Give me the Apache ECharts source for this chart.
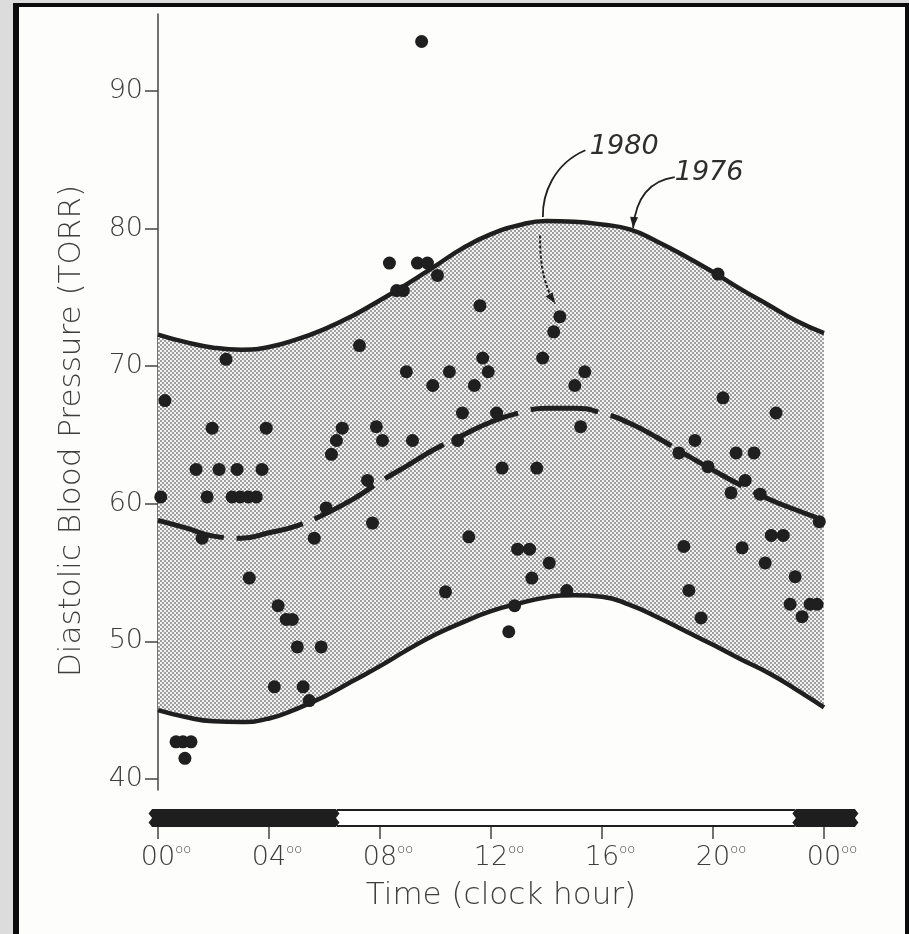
<!DOCTYPE html>
<html>
<head>
<meta charset="utf-8">
<title>Diastolic Blood Pressure by Clock Hour</title>
<script src="https://cdn.jsdelivr.net/npm/echarts@6/dist/echarts.min.js"></script>
<style>
  html, body { margin: 0; padding: 0; width: 909px; height: 934px; overflow: hidden; background: #dcdcdc; }
  #frame {
    position: absolute; left: 13px; top: 3px; width: 886px; height: 927px;
    background: #fdfdfb;
    border-left: 6px solid #0b0b0b; border-top: 4px solid #0b0b0b; border-right: 4px solid #0b0b0b;
  }
  #chart { position: absolute; left: 0; top: 0; width: 909px; height: 934px; }
</style>
</head>
<body>
<div id="frame"></div>
<div id="chart"></div>
<script>
// ---- data -------------------------------------------------------------
// clock hours at which the curves are sampled
const curveHours = [0, 1, 2, 3, 4, 5, 6, 7, 8, 9, 10, 11, 12, 13, 14, 15, 16, 17, 18, 19, 20, 21, 22, 23, 24];

// 1976 envelope, upper and lower bounds (torr)
const upper1976 = [72.3, 71.75, 71.35, 71.2, 71.4, 71.95, 72.7, 73.65, 74.8, 76.0, 77.3, 78.6, 79.6, 80.25, 80.55,
                   80.5, 80.3, 79.95, 79.05, 78.0, 76.85, 75.6, 74.45, 73.3, 72.4];
const lower1976 = [45.0, 44.5, 44.2, 44.15, 44.4, 45.1, 46.0, 47.1, 48.2, 49.4, 50.5, 51.4, 52.2, 52.75, 53.2,
                   53.35, 53.25, 52.65, 51.75, 50.75, 49.75, 48.7, 47.7, 46.5, 45.2];

// 1980 fitted rhythm (dashed)
const fit1980 = [58.8, 58.25, 57.65, 57.5, 57.9, 58.4, 59.25, 60.3, 61.6, 62.8, 64.0, 65.0, 65.95, 66.6, 66.95,
                 66.95, 66.6, 65.85, 64.8, 63.6, 62.45, 61.35, 60.35, 59.55, 58.8];

// individual 1980 readings: clock hour and diastolic pressure
const readingHours = [
  0.1, 0.25, 2.45, 1.95, 1.37, 2.2, 2.85, 3.75, 1.77, 2.67, 2.96, 3.25, 3.54, 3.9, 1.59, 3.29,
  0.65, 0.9, 1.19, 0.97,
  4.33, 4.62, 4.84, 5.02, 5.88, 4.19, 5.23, 5.45, 5.63, 6.06, 6.25, 6.43, 6.64, 7.55, 7.73,
  7.26, 7.87, 8.09, 9.17, 8.95, 10.5, 9.9, 10.8, 10.97, 11.4, 11.7, 11.9, 11.6, 12.2, 12.4,
  11.2, 10.36, 8.34, 9.35, 9.71, 10.07, 8.6, 8.84, 9.5,
  13.65, 12.96, 13.39, 14.1, 13.47, 14.73, 12.85, 12.64, 13.86, 14.26, 14.48, 15.38, 15.02, 15.23,
  18.77, 19.35, 19.82, 18.95, 19.13, 19.57, 20.18, 20.36, 20.65, 20.83, 21.48, 21.16, 21.7,
  21.05, 21.88, 22.27, 22.1, 22.53, 22.96, 22.78, 23.5, 23.75, 23.21, 23.83
];
const readingValues = [
  60.5, 67.5, 70.5, 65.5, 62.5, 62.5, 62.5, 62.5, 60.5, 60.5, 60.5, 60.5, 60.5, 65.5, 57.5, 54.6,
  42.7, 42.7, 42.7, 41.5,
  52.6, 51.6, 51.6, 49.6, 49.6, 46.7, 46.7, 45.7, 57.5, 59.7, 63.6, 64.6, 65.5, 61.7, 58.6,
  71.5, 65.6, 64.6, 64.6, 69.6, 69.6, 68.6, 64.6, 66.6, 68.6, 70.6, 69.6, 74.4, 66.6, 62.6,
  57.6, 53.6, 77.5, 77.5, 77.5, 76.6, 75.5, 75.5, 93.6,
  62.6, 56.7, 56.7, 55.7, 54.6, 53.7, 52.6, 50.7, 70.6, 72.5, 73.6, 69.6, 68.6, 65.6,
  63.7, 64.6, 62.7, 56.9, 53.7, 51.7, 76.7, 67.7, 60.8, 63.7, 63.7, 61.7, 60.7,
  56.8, 55.7, 66.6, 57.7, 57.7, 54.7, 52.7, 52.7, 52.7, 51.8, 58.7
];

// light / dark schedule shown under the time axis: [from hour, to hour, dark?]
const lightSchedule = [[6.45, 22.95, 0], [-0.25, 6.45, 1], [22.95, 25.15, 1]];

const yTicks = [40, 50, 60, 70, 80, 90];
const hourLabels = ['00', '04', '08', '12', '16', '20', '00'];

// annotation anchors in (hour, torr)
const label1976 = [19.86, 84.05];
const arrow1976 = [[18.62, 83.75], [17.55, 83.45], [17.2, 81.8], [17.12, 80.05]];
const label1980 = [16.8, 85.95];
const leader1980 = [[15.4, 85.7], [14.25, 84.7], [13.85, 82.5], [13.87, 80.85]];
const pointer1980 = [[13.77, 79.5], [13.75, 77.3], [13.95, 75.7], [14.31, 74.55]];

// ---- styling helpers --------------------------------------------------
const INK = '#1f1f1f';
const AXIS = '#444444';
const TEXT = '#3e3e3e';
const FONT = '"DejaVu Sans", "Liberation Sans", sans-serif';

// halftone screen used for the envelope
const tile = document.createElement('canvas');
tile.width = 4; tile.height = 4;
const tctx = tile.getContext('2d');
tctx.fillStyle = '#f3f3f3'; tctx.fillRect(0, 0, 4, 4);
tctx.fillStyle = '#9e9e9e'; tctx.fillRect(0, 0, 2, 2); tctx.fillRect(2, 2, 2, 2);

const pair = (xs, ys) => xs.map((x, i) => [x, ys[i]]);

function renderSchedule(params, api) {
  const from = api.value(0), to = api.value(1), dark = api.value(2);
  const a = api.coord([from, 1]);
  const b = api.coord([to, 0]);
  const x0 = a[0], x1 = b[0], top = a[1], bot = b[1];
  const h = bot - top;
  const children = [];
  if (!dark) {
    children.push({ type: 'rect', shape: { x: x0, y: top, width: x1 - x0, height: h },
      style: { fill: '#ffffff' } });
    children.push({ type: 'line', shape: { x1: x0, y1: top + 1, x2: x1, y2: top + 1 },
      style: { stroke: INK, lineWidth: 2 } });
    children.push({ type: 'line', shape: { x1: x0, y1: bot - 1, x2: x1, y2: bot - 1 },
      style: { stroke: INK, lineWidth: 2 } });
  } else {
    // torn edges at both ends
    const pts = [];
    const n = 4;
    for (let i = 0; i <= n; i++) pts.push([x1 + (i % 2 ? 2.5 : -1), top + h * i / n]);
    for (let i = n; i >= 0; i--) pts.push([x0 + (i % 2 ? -2.5 : 1), top + h * i / n]);
    children.push({ type: 'polygon', shape: { points: pts }, style: { fill: '#1e1e1e' } });
  }
  return { type: 'group', children };
}

const chart = echarts.init(document.getElementById('chart'), null, { renderer: 'canvas' });

chart.setOption({
  animation: false,
  backgroundColor: 'transparent',
  grid: [
    { left: 158, top: 14, width: 666, height: 776 },
    { left: 158, top: 809, width: 666, height: 18 }
  ],
  xAxis: [
    { gridIndex: 0, type: 'value', min: 0, max: 24, show: false },
    {
      gridIndex: 1, type: 'value', min: 0, max: 24, interval: 4,
      axisLine: { show: false },
      splitLine: { show: false },
      axisTick: { show: true, length: 12, lineStyle: { color: AXIS, width: 1.5 } },
      axisLabel: {
        margin: 16,
        padding: [0, 0, 0, 16],
        formatter: (v) => '{h|' + hourLabels[v / 4] + '}{s|oo}',
        rich: {
          h: { fontSize: 27, color: TEXT, fontFamily: FONT, fontWeight: 200, lineHeight: 30 },
          s: { fontSize: 13, color: TEXT, fontFamily: FONT, fontWeight: 200, verticalAlign: 'top', lineHeight: 15 }
        }
      }
    },
    // hourly sample axis for the stacked envelope
    { gridIndex: 0, type: 'category', data: curveHours.map(String), boundaryGap: false, show: false }
  ],
  yAxis: [
    {
      gridIndex: 0, type: 'value', min: 39.2, max: 95.6,
      splitLine: { show: false },
      axisLine: { show: true, lineStyle: { color: AXIS, width: 1.5 } },
      axisTick: { show: true, length: 13, customValues: yTicks, lineStyle: { color: AXIS, width: 1.5 } },
      axisLabel: { show: true, customValues: yTicks, margin: 15, fontSize: 27, color: TEXT,
                   fontFamily: FONT, fontWeight: 200 }
    },
    { gridIndex: 1, type: 'value', min: 0, max: 1, show: false }
  ],
  series: [
    {
      name: '1976 lower', type: 'line', xAxisIndex: 2, yAxisIndex: 0, stack: 'envelope',
      data: lower1976, smooth: true, showSymbol: false, z: 2,
      lineStyle: { color: INK, width: 4.5 }
    },
    {
      name: '1976 upper', type: 'line', xAxisIndex: 2, yAxisIndex: 0, stack: 'envelope',
      data: upper1976.map((u, i) => +(u - lower1976[i]).toFixed(2)), smooth: true, showSymbol: false, z: 2,
      lineStyle: { color: INK, width: 4.5 },
      areaStyle: { color: { image: tile, repeat: 'repeat' }, opacity: 1 }
    },
    {
      name: '1980 fit', type: 'line', xAxisIndex: 0, yAxisIndex: 0,
      data: pair(curveHours, fit1980), smooth: true, showSymbol: false, z: 3,
      lineStyle: { color: INK, width: 5, type: [68, 13], cap: 'butt' }
    },
    {
      name: '1980 readings', type: 'scatter', xAxisIndex: 0, yAxisIndex: 0,
      data: pair(readingHours, readingValues), symbol: 'circle', symbolSize: 13, z: 5,
      itemStyle: { color: INK, opacity: 1 }, clip: false
    },
    {
      name: 'light schedule', type: 'custom', xAxisIndex: 1, yAxisIndex: 1,
      data: lightSchedule, renderItem: renderSchedule, clip: false, silent: true
    }
  ]
});

// titles, annotation labels and curved pointers placed in data coordinates
function px(p) { return chart.convertToPixel({ seriesIndex: 3 }, p); }
function curve(pts, style) {
  const q = pts.map(px);
  return { type: 'bezierCurve', z: 10, shape: { x1: q[0][0], y1: q[0][1], cpx1: q[1][0], cpy1: q[1][1],
    cpx2: q[2][0], cpy2: q[2][1], x2: q[3][0], y2: q[3][1] }, style: Object.assign({ fill: null, stroke: INK }, style) };
}
function head(pts, len, half) {
  const q = pts.map(px);
  const tip = q[3], from = q[2];
  const dx = tip[0] - from[0], dy = tip[1] - from[1];
  const d = Math.hypot(dx, dy) || 1;
  const ux = dx / d, uy = dy / d;
  const bx = tip[0] - ux * len, by = tip[1] - uy * len;
  return { type: 'polygon', z: 10, shape: { points: [tip, [bx - uy * half, by + ux * half], [bx + uy * half, by - ux * half]] },
    style: { fill: INK } };
}
const p76 = px(label1976), p80 = px(label1980);
chart.setOption({
  graphic: [
    { type: 'text', x: 72, y: 431, rotation: Math.PI / 2,
      style: { text: 'Diastolic Blood Pressure (TORR)', fill: TEXT, font: '200 31px ' + FONT,
               align: 'center', verticalAlign: 'middle' } },
    { type: 'text', x: 501, y: 896,
      style: { text: 'Time (clock hour)', fill: TEXT, font: '200 31px ' + FONT,
               align: 'center', verticalAlign: 'middle' } },
    { type: 'text', x: p76[0], y: p76[1], z: 10,
      style: { text: '1976', fill: '#2e2e2e', font: 'italic 200 27px ' + FONT, align: 'center', verticalAlign: 'middle' } },
    { type: 'text', x: p80[0], y: p80[1], z: 10,
      style: { text: '1980', fill: '#2e2e2e', font: 'italic 200 27px ' + FONT, align: 'center', verticalAlign: 'middle' } },
    curve(arrow1976, { lineWidth: 1.8 }),
    head(arrow1976, 11, 4),
    curve(leader1980, { lineWidth: 1.8 }),
    curve(pointer1980, { lineWidth: 2, lineDash: [3, 2] }),
    head(pointer1980, 11, 4)
  ]
});
</script>
</body>
</html>
